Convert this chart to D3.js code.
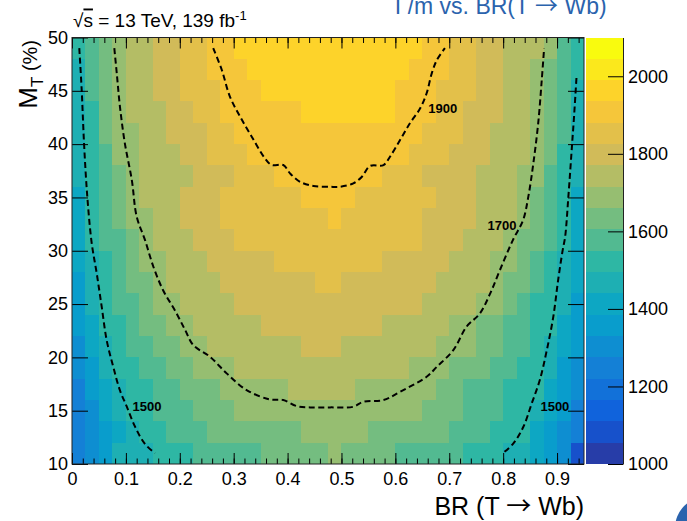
<!DOCTYPE html>
<html>
<head>
<meta charset="utf-8">
<script src="https://cdn.jsdelivr.net/npm/d3@7"></script>
<style>
  body { margin: 0; background: #fff; }
  svg text { font-family: "Liberation Sans", Arial, Helvetica, sans-serif; }
  .arrow { font-family: "Noto Sans CJK JP", "DejaVu Sans", sans-serif; }
</style>
</head>
<body>
<div id="chart"></div>
<script>
// Limite de massa em função de BR(T -> Wb) e M_T, estilo ROOT (COLZ + CONT)

// Centros dos bins
const brCentres = [0.0125, 0.0375, 0.0625, 0.0875, 0.1125, 0.1375, 0.1625, 0.1875, 0.2125, 0.2375,
  0.2625, 0.2875, 0.3125, 0.3375, 0.3625, 0.3875, 0.4125, 0.4375, 0.4625, 0.4875,
  0.5125, 0.5375, 0.5625, 0.5875, 0.6125, 0.6375, 0.6625, 0.6875, 0.7125, 0.7375,
  0.7625, 0.7875, 0.8125, 0.8375, 0.8625, 0.8875, 0.9125, 0.9375];
const mtCentres = [49, 47, 45, 43, 41, 39, 37, 35, 33, 31, 29, 27, 25, 23, 21, 19, 17, 15, 13, 11];

// Valores (GeV) linha a linha, de cima para baixo
const mt49 = [1497, 1574, 1651, 1710, 1737, 1764, 1791, 1819, 1846, 1873, 1900, 1920, 1940, 1946, 1951, 1957, 1962, 1968, 1973, 1975, 1966, 1961, 1956, 1951, 1945, 1940, 1923, 1903, 1878, 1851, 1823, 1796, 1769, 1742, 1716, 1664, 1587, 1510];
const mt47 = [1485, 1565, 1640, 1705, 1727, 1752, 1778, 1803, 1829, 1855, 1885, 1907, 1925, 1940, 1944, 1949, 1954, 1959, 1964, 1965, 1957, 1953, 1948, 1944, 1939, 1924, 1904, 1881, 1856, 1832, 1807, 1783, 1759, 1734, 1710, 1655, 1579, 1502];
const mt45 = [1478, 1558, 1632, 1702, 1727, 1751, 1776, 1800, 1825, 1849, 1874, 1899, 1913, 1927, 1938, 1942, 1946, 1950, 1954, 1955, 1949, 1946, 1942, 1939, 1929, 1914, 1898, 1874, 1850, 1826, 1802, 1779, 1755, 1731, 1707, 1645, 1566, 1490];
const mt43 = [1470, 1548, 1619, 1690, 1720, 1744, 1767, 1791, 1814, 1838, 1862, 1885, 1903, 1910, 1917, 1925, 1932, 1938, 1943, 1945, 1943, 1941, 1939, 1936, 1921, 1904, 1883, 1861, 1838, 1816, 1794, 1771, 1749, 1726, 1704, 1636, 1558, 1480];
const mt41 = [1462, 1543, 1610, 1677, 1714, 1735, 1757, 1778, 1799, 1821, 1842, 1864, 1885, 1902, 1907, 1912, 1918, 1923, 1928, 1930, 1922, 1917, 1912, 1907, 1902, 1889, 1868, 1847, 1826, 1805, 1784, 1763, 1742, 1721, 1700, 1626, 1550, 1470];
const mt39 = [1455, 1535, 1599, 1663, 1708, 1728, 1748, 1768, 1788, 1808, 1828, 1848, 1868, 1888, 1902, 1905, 1909, 1913, 1917, 1918, 1912, 1908, 1905, 1901, 1889, 1870, 1851, 1831, 1812, 1793, 1773, 1754, 1735, 1716, 1687, 1613, 1540, 1460];
const mt37 = [1445, 1527, 1587, 1646, 1702, 1718, 1735, 1752, 1768, 1785, 1802, 1818, 1835, 1852, 1868, 1885, 1901, 1904, 1906, 1907, 1905, 1901, 1886, 1870, 1854, 1838, 1822, 1806, 1790, 1774, 1758, 1742, 1726, 1710, 1673, 1603, 1532, 1450];
const mt35 = [1430, 1520, 1576, 1632, 1688, 1717, 1738, 1759, 1781, 1802, 1823, 1844, 1858, 1863, 1869, 1874, 1879, 1885, 1890, 1892, 1883, 1877, 1872, 1866, 1861, 1856, 1838, 1819, 1800, 1782, 1763, 1744, 1726, 1707, 1658, 1591, 1524, 1435];
const mt33 = [1415, 1512, 1568, 1623, 1679, 1712, 1732, 1751, 1771, 1791, 1810, 1830, 1843, 1848, 1854, 1859, 1864, 1870, 1875, 1885, 1868, 1862, 1857, 1851, 1846, 1841, 1824, 1806, 1789, 1771, 1753, 1735, 1718, 1699, 1637, 1575, 1514, 1425];
const mt31 = [1400, 1503, 1553, 1603, 1653, 1702, 1721, 1740, 1759, 1778, 1797, 1816, 1828, 1833, 1839, 1844, 1850, 1855, 1860, 1862, 1853, 1847, 1842, 1836, 1831, 1826, 1809, 1791, 1773, 1756, 1738, 1720, 1702, 1657, 1606, 1556, 1505, 1415];
const mt29 = [1388, 1480, 1537, 1585, 1632, 1680, 1710, 1728, 1746, 1764, 1781, 1799, 1811, 1816, 1822, 1827, 1833, 1838, 1844, 1845, 1836, 1830, 1825, 1819, 1814, 1808, 1793, 1776, 1759, 1742, 1725, 1708, 1676, 1629, 1581, 1533, 1477, 1400];
const mt27 = [1370, 1462, 1525, 1569, 1612, 1656, 1699, 1716, 1733, 1749, 1766, 1782, 1793, 1798, 1804, 1810, 1815, 1821, 1826, 1828, 1819, 1813, 1807, 1802, 1796, 1791, 1776, 1761, 1746, 1731, 1716, 1700, 1656, 1612, 1567, 1522, 1463, 1390];
const mt25 = [1350, 1445, 1513, 1551, 1589, 1627, 1666, 1702, 1717, 1733, 1748, 1764, 1775, 1781, 1787, 1793, 1799, 1805, 1811, 1812, 1802, 1796, 1790, 1784, 1778, 1773, 1759, 1745, 1730, 1716, 1701, 1665, 1626, 1587, 1549, 1510, 1445, 1370];
const mt23 = [1335, 1424, 1505, 1540, 1576, 1611, 1647, 1682, 1707, 1721, 1734, 1748, 1758, 1764, 1770, 1776, 1782, 1788, 1793, 1795, 1785, 1779, 1773, 1767, 1761, 1756, 1741, 1726, 1711, 1691, 1659, 1628, 1596, 1565, 1533, 1502, 1430, 1355];
const mt21 = [1315, 1401, 1488, 1526, 1557, 1587, 1618, 1648, 1679, 1704, 1716, 1727, 1739, 1745, 1751, 1757, 1764, 1770, 1776, 1778, 1768, 1762, 1756, 1749, 1743, 1734, 1722, 1711, 1697, 1668, 1639, 1610, 1580, 1551, 1522, 1482, 1411, 1340];
const mt19 = [1295, 1374, 1454, 1511, 1536, 1562, 1588, 1613, 1639, 1665, 1690, 1706, 1715, 1724, 1731, 1738, 1745, 1753, 1760, 1762, 1750, 1742, 1735, 1728, 1721, 1712, 1703, 1683, 1658, 1633, 1609, 1584, 1559, 1534, 1509, 1455, 1383, 1310];
const mt17 = [1270, 1344, 1418, 1492, 1520, 1541, 1563, 1585, 1607, 1628, 1650, 1672, 1693, 1703, 1707, 1711, 1715, 1719, 1723, 1725, 1718, 1714, 1709, 1705, 1700, 1682, 1662, 1642, 1622, 1602, 1582, 1562, 1542, 1522, 1502, 1433, 1359, 1285];
const mt15 = [1250, 1318, 1387, 1455, 1508, 1532, 1556, 1580, 1604, 1628, 1644, 1652, 1661, 1669, 1677, 1686, 1691, 1694, 1696, 1697, 1694, 1691, 1688, 1681, 1671, 1661, 1651, 1634, 1614, 1594, 1574, 1553, 1533, 1513, 1473, 1402, 1331, 1260];
const mt13 = [1245, 1305, 1366, 1426, 1487, 1517, 1539, 1561, 1582, 1604, 1618, 1625, 1632, 1639, 1646, 1653, 1659, 1666, 1673, 1675, 1669, 1662, 1655, 1648, 1641, 1634, 1627, 1610, 1591, 1573, 1555, 1536, 1518, 1499, 1434, 1370, 1305, 1240];
const mt11 = [1230, 1300, 1380, 1445, 1470, 1488, 1510, 1525, 1540, 1560, 1575, 1588, 1597, 1603, 1612, 1625, 1635, 1642, 1648, 1690, 1648, 1640, 1630, 1615, 1600, 1590, 1578, 1565, 1552, 1540, 1527, 1512, 1488, 1460, 1420, 1345, 1290, 1080];
const massLimitRows = [mt49, mt47, mt45, mt43, mt41, mt39, mt37, mt35, mt33, mt31,
  mt29, mt27, mt25, mt23, mt21, mt19, mt17, mt15, mt13, mt11];

// Curvas de nível: [BR, M_T]
const contour1500Left = [[0.0135, 49.0], [0.018, 45.07], [0.0223, 40.1], [0.0284, 35.06], [0.0366, 30.7],
  [0.0458, 27.9], [0.0551, 24.75], [0.0644, 21.6], [0.0766, 19.1], [0.089, 16.9], [0.1015, 15.4],
  [0.117, 13.5], [0.135, 11.9], [0.154, 11.0]];
const contour1500Right = [[0.936, 46.2], [0.9315, 42.57], [0.928, 40.07], [0.921, 35.07], [0.915, 31.3],
  [0.9105, 30.07], [0.902, 27.25], [0.893, 23.8], [0.881, 20.68], [0.868, 17.87], [0.853, 15.68],
  [0.8375, 13.49], [0.819, 11.93], [0.8003, 11.05]];
const contour1700 = [[0.0785, 49], [0.083, 46.67], [0.089, 43.5], [0.098, 40.1], [0.111, 36.63], [0.12, 33.2],
  [0.1355, 31.0], [0.151, 28.5], [0.169, 26.3], [0.191, 24.4], [0.21, 22.56], [0.225, 21.15], [0.256, 20.06],
  [0.287, 18.5], [0.324, 16.93], [0.367, 16.06], [0.392, 16.0], [0.417, 15.43], [0.4417, 15.31], [0.479, 15.31],
  [0.522, 15.37], [0.5405, 15.84], [0.578, 16.0], [0.6087, 16.77], [0.658, 18.18], [0.677, 19.12], [0.7075, 20.68],
  [0.732, 22.87], [0.757, 24.13], [0.776, 26.0], [0.794, 28.19], [0.818, 31.0], [0.837, 32.88], [0.8467, 35.07],
  [0.856, 38.2], [0.865, 41.95], [0.8716, 46.0], [0.876, 49]];
const contour1900 = [[0.262, 49], [0.278, 46.95], [0.293, 44.45], [0.312, 42.57], [0.3335, 40.7], [0.358, 38.67],
  [0.3706, 38.04], [0.392, 38.04], [0.4045, 37.26], [0.423, 36.47], [0.448, 36.07], [0.479, 36.0], [0.497, 36.0],
  [0.522, 36.32], [0.538, 36.94], [0.553, 37.95], [0.578, 38.04], [0.59, 38.82], [0.6087, 40.38], [0.627, 41.95],
  [0.646, 43.36], [0.658, 44.77], [0.6675, 46.64], [0.677, 47.89], [0.692, 49]];
const contourLines = [contour1500Left, contour1500Right, contour1700, contour1900];
const contourLabels = [
  { text: '1500', br: 0.139, mt: 15.43 },
  { text: '1500', br: 0.896, mt: 15.43 },
  { text: '1700', br: 0.798, mt: 32.41 },
  { text: '1900', br: 0.688, mt: 43.39 }
];

// Eixos
const brTicks = [0, 0.1, 0.2, 0.3, 0.4, 0.5, 0.6, 0.7, 0.8, 0.9];
const mtTicks = [10, 15, 20, 25, 30, 35, 40, 45, 50];
const zTicks = [1000, 1200, 1400, 1600, 1800, 2000];

// Paleta kBird do ROOT
const birdStops = [0, 0.125, 0.25, 0.375, 0.5, 0.625, 0.75, 0.875, 1];
const birdRed = [0.2082, 0.0592, 0.0780, 0.0232, 0.1802, 0.5301, 0.8186, 0.9956, 0.9764];
const birdGreen = [0.1664, 0.3599, 0.5041, 0.6419, 0.7178, 0.7492, 0.7328, 0.7862, 0.9832];
const birdBlue = [0.5293, 0.8684, 0.8385, 0.7914, 0.6425, 0.4662, 0.3499, 0.1968, 0.0539];

const zMin = 1000, zMax = 2100, nLevels = 20;

const bird = d3.scaleLinear()
  .domain(birdStops)
  .range(birdStops.map((s, i) => d3.rgb(birdRed[i] * 255, birdGreen[i] * 255, birdBlue[i] * 255)))
  .interpolate(d3.interpolateRgb);

// Cor de cada nível como o THistPainter escolhe (255 cores, 20 contornos)
function levelColour(level) {
  const idx = Math.floor((level + 0.99) * 255 / nLevels);
  return bird(Math.min(idx, 254) / 254);
}
function zColour(z) {
  let level = Math.floor((z - zMin) / ((zMax - zMin) / nLevels));
  level = Math.max(0, Math.min(nLevels - 1, level));
  return levelColour(level);
}

const W = 687, H = 521;
const svg = d3.select('#chart').append('svg')
  .attr('width', W).attr('height', H)
  .style('display', 'block');

const x = d3.scaleLinear().domain([0, 0.95]).range([72, 584]);
const y = d3.scaleLinear().domain([10, 50]).range([464, 37.5]);
const zAxisScale = d3.scaleLinear().domain([zMin, zMax]).range([464, 37.5]);

// Células
const cells = [];
massLimitRows.forEach((row, r) => {
  row.forEach((v, c) => cells.push({ br: brCentres[c], mt: mtCentres[r], v }));
});

svg.append('g')
  .selectAll('rect')
  .data(cells)
  .enter()
  .append('rect')
  .attr('x', d => x(d.br - 0.0125))
  .attr('y', d => y(d.mt + 1))
  .attr('width', d => x(d.br + 0.0125) - x(d.br - 0.0125))
  .attr('height', d => y(d.mt - 1) - y(d.mt + 1))
  .attr('fill', d => zColour(d.v))
  .attr('shape-rendering', 'crispEdges');

// Curvas de nível tracejadas
const line = d3.line()
  .x(d => x(d[0]))
  .y(d => y(d[1]))
  .curve(d3.curveCatmullRom.alpha(0.5));

svg.append('g')
  .selectAll('path')
  .data(contourLines)
  .enter()
  .append('path')
  .attr('d', line)
  .attr('fill', 'none')
  .attr('stroke', '#000')
  .attr('stroke-width', 2)
  .attr('stroke-dasharray', '6,3.5');

svg.append('g')
  .selectAll('text')
  .data(contourLabels)
  .enter()
  .append('text')
  .attr('x', d => x(d.br))
  .attr('y', d => y(d.mt))
  .attr('dy', '0.36em')
  .attr('text-anchor', 'middle')
  .style('font-size', '13px')
  .style('font-weight', 'bold')
  .text(d => d.text);

// Eixos no estilo ROOT (marcas para dentro)
function styleAxis(g, size) {
  g.attr('font-family', null).attr('font-size', null);
  g.select('.domain').remove();
  g.selectAll('line').attr('stroke', '#000');
  g.selectAll('text').attr('fill', '#000').style('font-size', size + 'px');
}

const minorBr = x.ticks(50);

svg.append('g')
  .attr('transform', `translate(0,${y(10)})`)
  .call(d3.axisBottom(x).tickValues(brTicks).tickSize(-11).tickPadding(8).tickFormat(d3.format('')))
  .call(g => styleAxis(g, 18));
svg.append('g')
  .attr('transform', `translate(0,${y(10)})`)
  .call(d3.axisBottom(x).tickValues(minorBr).tickSize(-5.5).tickFormat(''))
  .call(g => styleAxis(g, 18));
svg.append('g')
  .attr('transform', `translate(0,${y(50)})`)
  .call(d3.axisTop(x).tickValues(brTicks).tickSize(-11).tickFormat(''))
  .call(g => styleAxis(g, 18));
svg.append('g')
  .attr('transform', `translate(0,${y(50)})`)
  .call(d3.axisTop(x).tickValues(minorBr).tickSize(-5.5).tickFormat(''))
  .call(g => styleAxis(g, 18));

svg.append('g')
  .attr('transform', `translate(${x(0)},0)`)
  .call(d3.axisLeft(y).tickValues(mtTicks).tickSize(-16).tickPadding(4).tickFormat(d3.format('d')))
  .call(g => styleAxis(g, 18));
svg.append('g')
  .attr('transform', `translate(${x(0.95)},0)`)
  .call(d3.axisRight(y).tickValues(mtTicks).tickSize(-16).tickFormat(''))
  .call(g => styleAxis(g, 18));

// Moldura
svg.append('rect')
  .attr('x', x(0)).attr('y', y(50))
  .attr('width', x(0.95) - x(0)).attr('height', y(10) - y(50))
  .attr('fill', 'none').attr('stroke', '#222').attr('stroke-width', 1);

// Escala de cores
const barX0 = 586, barX1 = 623;
const bands = d3.range(nLevels);
const bandStep = (zMax - zMin) / nLevels;
svg.append('g')
  .selectAll('rect')
  .data(bands)
  .enter()
  .append('rect')
  .attr('x', barX0)
  .attr('width', barX1 - barX0)
  .attr('y', d => zAxisScale(zMin + (d + 1) * bandStep))
  .attr('height', d => zAxisScale(zMin + d * bandStep) - zAxisScale(zMin + (d + 1) * bandStep))
  .attr('fill', d => levelColour(d))
  .attr('shape-rendering', 'crispEdges');

svg.append('g')
  .attr('transform', `translate(${barX1},0)`)
  .call(d3.axisRight(zAxisScale).tickValues(zTicks).tickSize(-15).tickSizeOuter(0).tickPadding(5).tickFormat(d3.format('d')))
  .call(g => {
    g.attr('font-family', null).attr('font-size', null);
    g.select('.domain').attr('stroke', '#222');
    g.selectAll('line').attr('stroke', '#000');
    g.selectAll('text').attr('fill', '#000').style('font-size', '18px');
  });

// Títulos dos eixos
const xTitle = svg.append('text')
  .attr('x', x(0.95))
  .attr('y', 515)
  .attr('text-anchor', 'end')
  .style('font-size', '25px');
xTitle.append('tspan').text('BR (T ');
xTitle.append('tspan').attr('class', 'arrow').text('\u2192');
xTitle.append('tspan').text(' Wb)');

const yTitle = svg.append('text')
  .attr('transform', 'translate(37,40) rotate(-90)')
  .attr('text-anchor', 'end')
  .style('font-size', '26px');
yTitle.append('tspan').text('M');
yTitle.append('tspan').attr('dy', 6).style('font-size', '17px').text('T');
yTitle.append('tspan').attr('dy', -6).style('font-size', '20px').text(' (%)');

// Legenda do topo
const lumi = svg.append('text')
  .attr('x', 73)
  .attr('y', 26.5)
  .style('font-size', '19px');
lumi.append('tspan').text('\u221A');
lumi.append('tspan').style('text-decoration', 'overline').text('s');
lumi.append('tspan').text(' = 13 TeV, 139 fb');
lumi.append('tspan').attr('dy', -7).style('font-size', '13px').text('-1');

const topTitle = svg.append('text')
  .attr('x', 395)
  .attr('y', 14)
  .attr('fill', '#2B63AD')
  .style('font-size', '23px');
topTitle.append('tspan').text('\u0393/m vs. BR(T ');
topTitle.append('tspan').attr('class', 'arrow').text('\u2192');
topTitle.append('tspan').text(' Wb)');

svg.append('circle')
  .attr('cx', 706).attr('cy', 528).attr('r', 31)
  .attr('fill', '#2B63AD');
</script>
</body>
</html>
